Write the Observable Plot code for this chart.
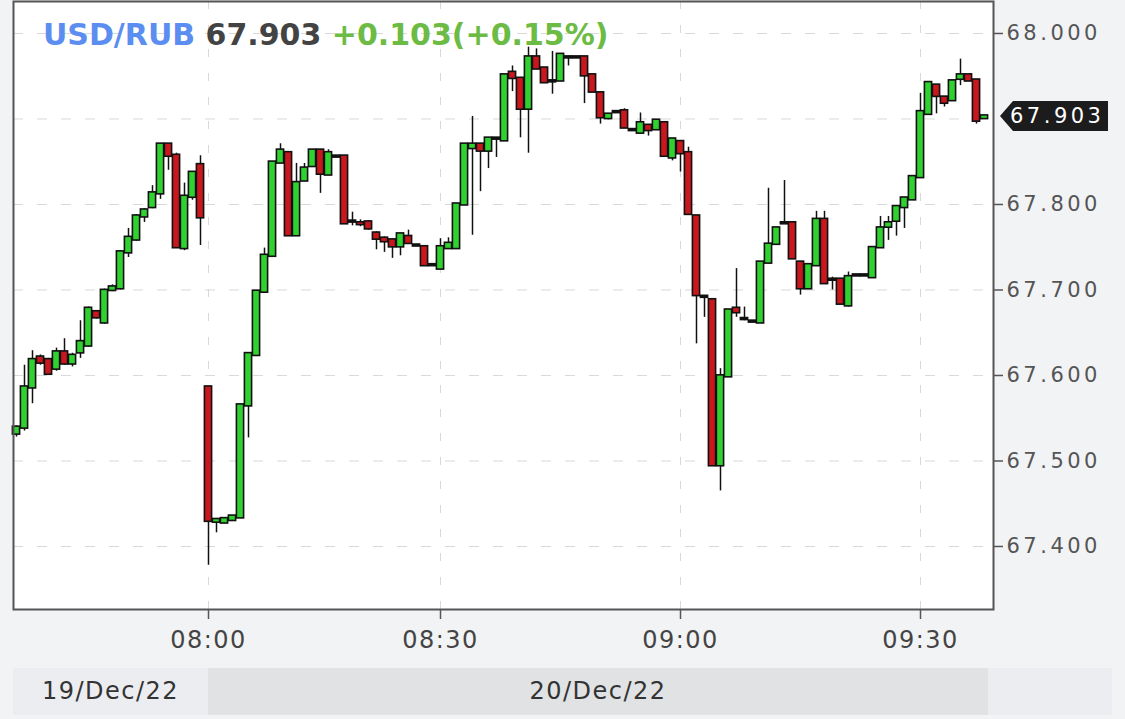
<!DOCTYPE html>
<html>
<head>
<meta charset="utf-8">
<script src="https://cdn.jsdelivr.net/npm/d3@7"></script>
<script src="https://cdn.jsdelivr.net/npm/@observablehq/plot@0.6"></script>
<style>
  html, body { margin: 0; padding: 0; background: #f2f3f5; }
  #wrap { position: relative; width: 1125px; height: 719px; font-family: "DejaVu Sans", sans-serif; }
  #band { position: absolute; left: 13px; top: 668px; width: 1099px; height: 47px; background: #ebedf0; }
  .day { position: absolute; top: 0; height: 47px; line-height: 47px; text-align: center; font-size: 24px; letter-spacing: 1.5px; color: #333; }
</style>
</head>
<body>
<div id="wrap"></div>
<script>
// ---- data (one candle per minute; 19/Dec session tail, then 20/Dec) ----
const days = ["19/Dec/22", "20/Dec/22"];
const dayOfCandle = [
  0,0,0,0,0,0,0,0,0,0,0,0,0,0,0,0,0,0,0,0,0,0,0,0,
  1,1,1,1,1,1,1,1,1,1,1,1,1,1,1,1,1,1,1,1,1,1,1,1,1,1,1,1,1,1,1,1,1,1,1,1,1,1,1,1,1,1,1,1,1,1,1,1,1,1,1,1,1,1,1,1,1,1,1,1,1,1,1,1,1,1,1,1,1,1,1,1,1,1,1,1,1,1,1,1,1,1,1,1,1,1,1,1,1,1,1,1,1,1,1,1,1,1
];
const times = [
  "23:36","23:37","23:38","23:39","23:40","23:41","23:42","23:43","23:44","23:45","23:46","23:47",
  "23:48","23:49","23:50","23:51","23:52","23:53","23:54","23:55","23:56","23:57","23:58","23:59",
  "08:00","08:01","08:02","08:03","08:04","08:05","08:06","08:07","08:08","08:09","08:10","08:11",
  "08:12","08:13","08:14","08:16","08:17","08:18","08:19","08:20","08:21","08:22","08:23","08:24",
  "08:25","08:26","08:27","08:28","08:29","08:30","08:31","08:32","08:33","08:34","08:35","08:36",
  "08:37","08:38","08:39","08:40","08:41","08:42","08:43","08:44","08:45","08:46","08:47","08:48",
  "08:49","08:50","08:51","08:52","08:53","08:54","08:55","08:56","08:57","08:58","08:59","09:00",
  "09:01","09:02","09:03","09:04","09:05","09:06","09:07","09:08","09:09","09:10","09:11","09:12",
  "09:13","09:14","09:15","09:16","09:17","09:18","09:19","09:20","09:21","09:22","09:23","09:24",
  "09:25","09:26","09:27","09:28","09:29","09:30","09:31","09:32","09:33","09:34","09:35","09:36",
  "09:37","09:38"
];
const open = [
  67.532,67.539,67.586,67.621,67.618,67.608,67.627,67.614,67.627,67.635,67.674,67.662,
  67.700,67.702,67.744,67.759,67.786,67.797,67.813,67.870,67.857,67.749,67.809,67.846,
  67.586,67.429,67.428,67.431,67.434,67.565,67.624,67.698,67.740,67.849,67.860,67.764,
  67.828,67.845,67.863,67.835,67.856,67.856,67.780,67.778,67.779,67.766,67.760,67.758,
  67.751,67.762,67.752,67.750,67.729,67.725,67.749,67.749,67.800,67.866,67.870,67.863,
  67.877,67.875,67.954,67.947,67.912,67.972,67.959,67.944,67.945,67.972,67.972,67.972,
  67.951,67.930,67.901,67.908,67.909,67.887,67.884,67.892,67.888,67.895,67.855,67.873,
  67.860,67.786,67.692,67.688,67.495,67.599,67.678,67.666,67.663,67.662,67.732,67.754,
  67.778,67.778,67.732,67.702,67.729,67.782,67.712,67.712,67.682,67.717,67.717,67.715,
  67.750,67.774,67.781,67.797,67.806,67.832,67.906,67.939,67.925,67.922,67.947,67.951,
  67.945,67.901
];
const high = [
  67.541,67.612,67.629,67.624,67.620,67.632,67.643,67.626,67.664,67.680,67.676,67.701,
  67.706,67.746,67.772,67.788,67.795,67.822,67.870,67.870,67.860,67.825,67.838,67.857,
  67.586,67.432,67.433,67.436,67.566,67.626,67.699,67.749,67.850,67.871,67.861,67.848,
  67.848,67.864,67.864,67.864,67.857,67.857,67.791,67.782,67.781,67.768,67.762,67.759,
  67.766,67.770,67.753,67.751,67.730,67.760,67.761,67.801,67.871,67.903,67.871,67.878,
  67.878,67.952,67.962,67.948,67.984,67.982,67.960,67.979,67.976,67.974,67.973,67.973,
  67.952,67.931,67.906,67.909,67.912,67.888,67.907,67.893,67.899,67.896,67.877,67.874,
  67.867,67.787,67.693,67.689,67.608,67.677,67.725,67.680,67.664,67.733,67.819,67.773,
  67.828,67.779,67.733,67.730,67.792,67.792,67.715,67.713,67.721,67.718,67.718,67.750,
  67.786,67.786,67.798,67.808,67.833,67.930,67.943,67.940,67.926,67.945,67.970,67.952,
  67.946,67.904
];
const low = [
  67.528,67.535,67.567,67.612,67.600,67.605,67.612,67.610,67.620,67.633,67.666,67.660,
  67.698,67.700,67.738,67.757,67.779,67.795,67.806,67.840,67.750,67.746,67.805,67.752,
  67.378,67.416,67.427,67.430,67.433,67.527,67.623,67.697,67.739,67.848,67.764,67.763,
  67.827,67.844,67.813,67.834,67.855,67.778,67.775,67.774,67.770,67.747,67.744,67.737,
  67.740,67.754,67.751,67.729,67.728,67.724,67.748,67.748,67.799,67.764,67.815,67.842,
  67.855,67.874,67.932,67.878,67.860,67.958,67.942,67.929,67.944,67.962,67.971,67.918,
  67.931,67.894,67.899,67.907,67.889,67.886,67.883,67.880,67.887,67.856,67.851,67.838,
  67.789,67.637,67.668,67.494,67.465,67.598,67.668,67.664,67.662,67.661,67.731,67.753,
  67.777,67.737,67.694,67.701,67.728,67.708,67.700,67.684,67.680,67.716,67.716,67.714,
  67.749,67.758,67.763,67.772,67.805,67.831,67.905,67.906,67.914,67.921,67.939,67.944,
  67.894,67.900
];
const close = [
  67.539,67.586,67.618,67.615,67.602,67.627,67.614,67.623,67.639,67.678,67.668,67.699,
  67.703,67.744,67.761,67.786,67.793,67.813,67.870,67.857,67.750,67.809,67.837,67.785,
  67.430,67.431,67.432,67.435,67.565,67.625,67.698,67.740,67.849,67.863,67.764,67.825,
  67.842,67.863,67.836,67.860,67.856,67.778,67.780,67.777,67.772,67.760,67.757,67.751,
  67.765,67.755,67.752,67.729,67.729,67.750,67.754,67.800,67.870,67.870,67.863,67.877,
  67.877,67.951,67.948,67.912,67.972,67.959,67.943,67.944,67.975,67.972,67.972,67.951,
  67.932,67.902,67.905,67.908,67.890,67.887,67.895,67.887,67.898,67.857,67.876,67.860,
  67.789,67.694,67.692,67.495,67.599,67.676,67.674,67.666,67.663,67.732,67.753,67.772,
  67.778,67.737,67.702,67.729,67.782,67.708,67.712,67.684,67.715,67.717,67.717,67.749,
  67.772,67.778,67.797,67.807,67.832,67.908,67.942,67.927,67.919,67.944,67.951,67.945,
  67.898,67.903
];
const gridTicks = [67.4, 67.5, 67.6, 67.7, 67.8, 67.9, 68.0];
const yTickLabels = [67.4, 67.5, 67.6, 67.7, 67.8, 68.0]; // 67.900 sits under the last-price tag
const xTickLabels = ["08:00", "08:30", "09:00", "09:30"];
const symbol = "USD/RUB";
const lastPrice = 67.903;
const change = "+0.103(+0.15%)";

// ---- build ----
const GREEN = "#2fd22f", RED = "#c8171d", INK = "#111";
const candles = times.map((t, i) => ({ i, t, day: dayOfCandle[i], o: open[i], h: high[i], l: low[i], c: close[i] }));
const tickIdx = xTickLabels.map(lbl => times.findIndex((t, i) => t === lbl && dayOfCandle[i] === 1));

const plot = Plot.plot({
  width: 1125,
  height: 660,
  marginLeft: 13,
  marginRight: 132,
  marginTop: 1,
  marginBottom: 51,
  style: { background: "transparent", fontFamily: "DejaVu Sans, sans-serif", overflow: "visible" },
  x: { domain: [-0.375, 122.125], axis: null },
  y: { domain: [67.3263, 68.0374], axis: null },
  color: { type: "identity" },
  marks: [
    Plot.frame({ fill: "white", stroke: null }),
    Plot.gridY(gridTicks, { stroke: "#d8d8d8", strokeOpacity: 1, strokeDasharray: "10,14" }),
    Plot.gridX(tickIdx, { stroke: "#d8d8d8", strokeOpacity: 1, strokeDasharray: "8,16" }),
    Plot.ruleX(candles, { x: "i", y1: "l", y2: "h", stroke: INK, strokeWidth: 1.5 }),
    Plot.rect(candles, {
      x1: d => d.i - 0.45, x2: d => d.i + 0.45, y1: "o", y2: "c",
      fill: d => d.c > d.o ? GREEN : d.c < d.o ? RED : INK,
      stroke: INK, strokeWidth: 1.6, insetTop: -1, insetBottom: -1
    }),
    Plot.frame({ stroke: "#555", strokeWidth: 2 }),
    Plot.axisY(yTickLabels, { anchor: "right", label: null, tickFormat: d3.format(".3f"), tickSize: 9, tickPadding: 4, fontSize: 21, color: "#555", stroke: "#555", strokeWidth: 1.5 }),
    Plot.axisX(tickIdx, { anchor: "bottom", label: null, tickFormat: i => times[i], tickSize: 10, tickPadding: 11, fontSize: 24, color: "#444", stroke: "#555", strokeWidth: 1.5 })
  ]
});

const svg = d3.select(plot);
svg.selectAll('[aria-label="y-axis tick label"] text').style("letter-spacing", "3.5px");
svg.selectAll('[aria-label="x-axis tick label"] text').style("letter-spacing", "1.5px");

// last-price tag, placed through the y scale
const yS = plot.scale("y"), xS = plot.scale("x");
const ty = yS.apply(lastPrice);
const tag = svg.append("g");
tag.append("path")
  .attr("d", `M1000,${ty} L1013,${ty - 15} L1108,${ty - 15} L1108,${ty + 15} L1013,${ty + 15} Z`)
  .attr("fill", "#1c1c1c");
tag.append("text").attr("x", 1010).attr("y", ty).attr("dy", "0.36em")
  .attr("text-anchor", "start")
  .attr("fill", "white").attr("font-size", 21).style("letter-spacing", "3.5px")
  .text(lastPrice.toFixed(3));

// header inside the plot
const head = svg.append("text").attr("x", 43).attr("y", 45)
  .attr("text-anchor", "start")
  .attr("font-size", 30).attr("font-weight", "bold");
head.append("tspan").attr("fill", "#5b8ef0").text(symbol);
head.append("tspan").attr("fill", "#434343").text(" " + lastPrice.toFixed(3));
head.append("tspan").attr("fill", "#6cbb45").text(" " + change);

const wrap = document.getElementById("wrap");
wrap.appendChild(plot);
plot.style.position = "absolute";
plot.style.left = "0px";
plot.style.top = "0px";

// day band below the chart
const band = document.createElement("div");
band.id = "band";
const x0 = xS.apply(tickIdx[0]), x1 = xS.apply(times.length - 0.5);
const seg1 = document.createElement("div");
seg1.className = "day"; seg1.style.left = "0px"; seg1.style.width = (x0 - 13) + "px";
seg1.textContent = days[0];
const seg2 = document.createElement("div");
seg2.className = "day"; seg2.style.left = (x0 - 13) + "px"; seg2.style.width = (x1 - x0) + "px";
seg2.style.background = "#e1e2e4";
seg2.textContent = days[1];
band.appendChild(seg1); band.appendChild(seg2);
wrap.appendChild(band);
</script>
</body>
</html>
